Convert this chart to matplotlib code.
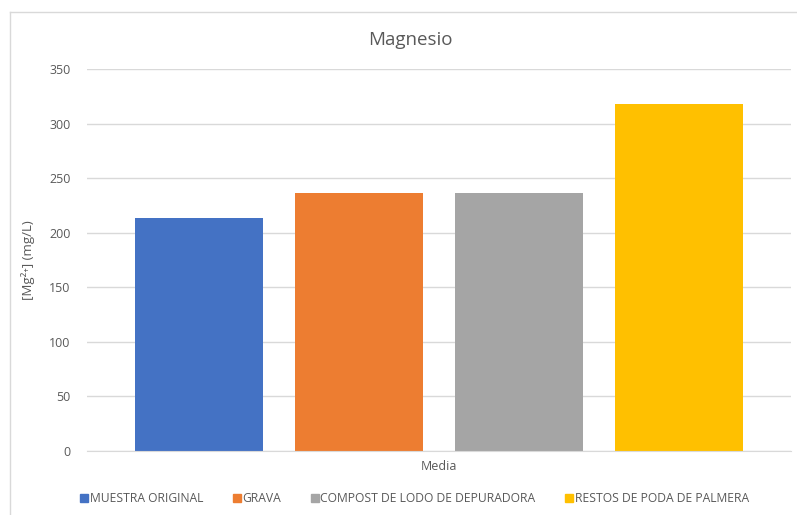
import matplotlib.pyplot as plt
from matplotlib.lines import Line2D

plt.rcParams['font.family'] = ['Open Sans', 'DejaVu Sans']

# data
series = ['MUESTRA ORIGINAL', 'GRAVA', 'COMPOST DE LODO DE DEPURADORA', 'RESTOS DE PODA DE PALMERA']
values = [213.5, 236.8, 236.8, 318.3]
colors = ['#4472C4', '#ED7D31', '#A5A5A5', '#FFC000']
category = 'Media'
yticks = [0, 50, 100, 150, 200, 250, 300, 350]

W, H = 797, 515
fig = plt.figure(figsize=(W / 100, H / 100), dpi=100)

# plot area in pixels: x 87..791, y 69..451
ax = fig.add_axes([87 / W, 1 - 451 / H, (791 - 87) / W, (451 - 69) / H])

xs = list(range(len(series)))
ax.bar(xs, values, width=0.8, color=colors, label=series, zorder=3)

# bar 0 centre at 199 px, 160 px per unit
ax.set_xlim((87 - 199) / 160, (791 - 199) / 160)
ax.set_ylim(0, 350)
ax.set_yticks(yticks)
ax.yaxis.grid(True, color='#D9D9D9', linewidth=1, zorder=0)
ax.tick_params(axis='y', length=0, labelsize=9, colors='#595959', pad=12)
ax.set_xticks([])
for s in ['top', 'right', 'left']:
    ax.spines[s].set_visible(False)
ax.spines['bottom'].set_color('#D9D9D9')
ax.spines['bottom'].set_zorder(4)

ax.set_ylabel('[Mg²⁺] (mg/L)', fontsize=9.5, color='#595959', labelpad=10)
fig.text(439 / W, 1 - 467 / H, category, ha='center', va='center', fontsize=9, color='#595959')
fig.text(410 / W, 1 - 40 / H, 'Magnesio', ha='center', va='center', fontsize=13.5, color='#595959')

handles = [Line2D([], [], marker='s', linestyle='', markersize=5.5, color=c) for c in colors]
fig.legend(handles, series, loc='center', bbox_to_anchor=(414 / W, 1 - 499 / H), ncol=4,
           frameon=False, fontsize=8.7, labelcolor='#595959', handletextpad=0.05,
           columnspacing=2.4, handlelength=0.8)

# chart border (left and top edges)
fig.add_artist(Line2D([9.5 / W, 9.5 / W], [0, 1 - 11.5 / H], color='#D9D9D9', linewidth=1))
fig.add_artist(Line2D([9.5 / W, 1], [1 - 11.5 / H, 1 - 11.5 / H], color='#D9D9D9', linewidth=1))

fig.savefig('out.png', dpi=100)
